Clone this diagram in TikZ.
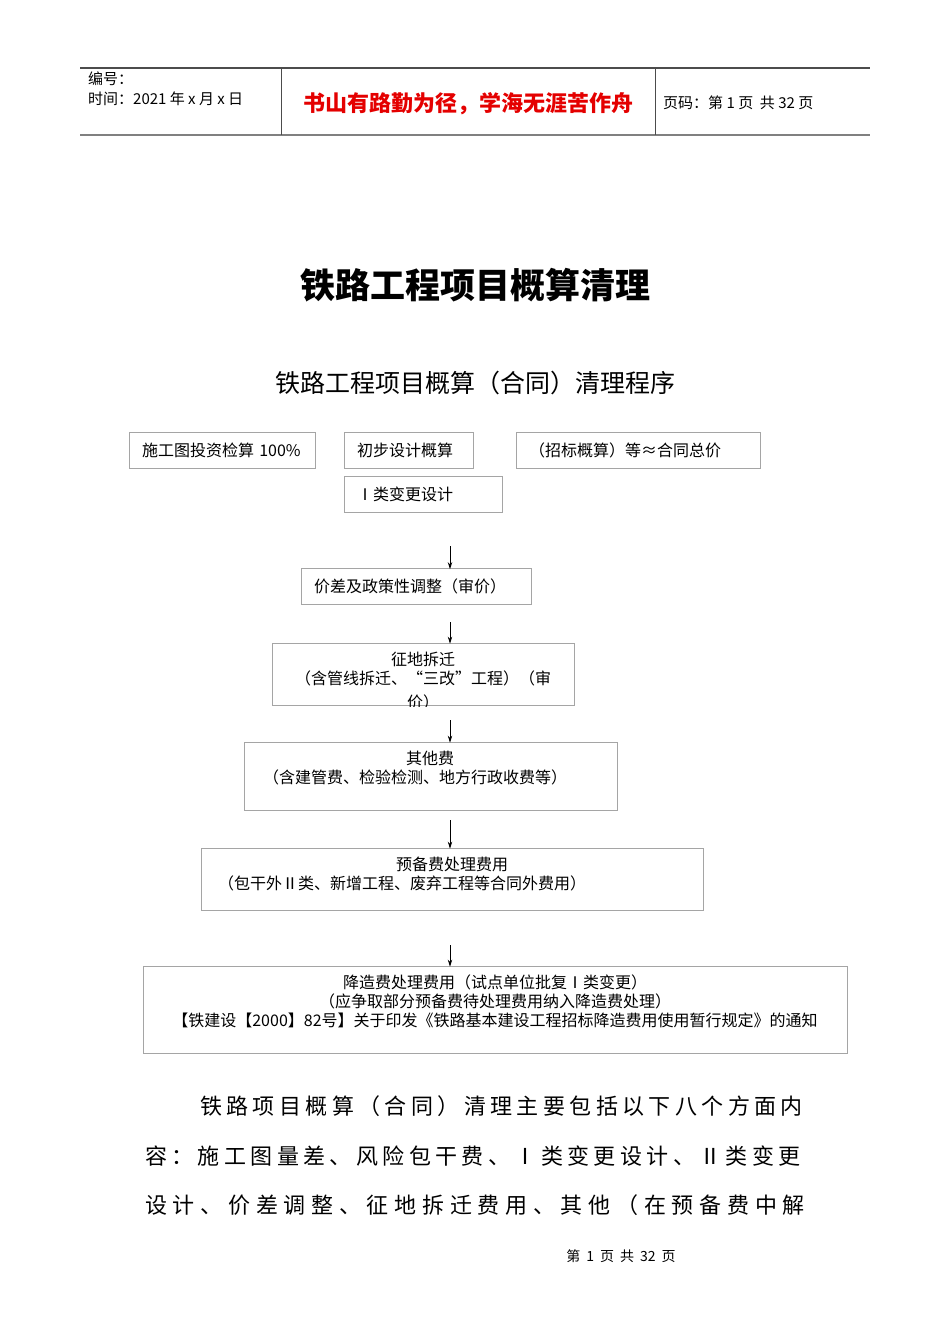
\documentclass[tikz,border=0pt]{standalone}
\usepackage{fontspec}
\setmainfont{Noto Sans CJK SC}
\newfontfamily\spaced[LetterSpace=20]{Noto Sans CJK SC}
\newfontfamily\wider[LetterSpace=26]{Noto Sans CJK SC}
\usetikzlibrary{arrows.meta}
\definecolor{boxgray}{RGB}{165,165,165}
\definecolor{headred}{RGB}{228,0,0}
\tikzset{
box/.style={draw=boxgray,line width=0.8pt,inner xsep=13pt,inner ysep=0pt,minimum height=36pt,align=left,font=\fontsize{16}{19}\selectfont},
bigbox/.style={draw=boxgray,line width=0.8pt,inner sep=0pt},
boxtext/.style={anchor=north,inner sep=0pt,align=center,font=\fontsize{16}{19}\selectfont},
arr/.style={-{Stealth[length=7pt,width=4.5pt]},line width=0.8pt},
head/.style={anchor=west,inner sep=0pt,font=\fontsize{15}{15}\selectfont},
para/.style={anchor=west,inner sep=0pt,font=\fontsize{22}{22}\spaced}
}
\begin{document}
\begin{tikzpicture}[x=1pt,y=-1pt]
\useasboundingbox(0,0)rectangle(950,1344);
% header table
\draw[line width=1.2pt,draw=gray!60!black](80,68)--(870,68);
\draw[line width=1.6pt,draw=gray](80,135)--(870,135);
\draw[line width=0.8pt,draw=gray!60!black](281,68)--(281,135)(655,68)--(655,135);
\node[head](hno)at(88,79){编号：};
\node[head](htime)at(88,99){时间：2021 年 x 月 x 日};
\node[inner sep=0pt,text=headred,font=\fontsize{22}{22}\bfseries](hmotto)at(468,104){书山有路勤为径，学海无涯苦作舟};
\node[head](hpage)at(663,103){页码：第 1 页\ \ 共 32 页};
% titles
\node[inner sep=0pt,font=\fontsize{35}{35}\bfseries](title)at(475,285){铁路工程项目概算清理};
\node[inner sep=0pt,font=\fontsize{25}{25}\selectfont](subtitle)at(475,383){铁路工程项目概算（合同）清理程序};
% top row
\node[box,text width=160pt](sgt)at(222,450){施工图投资检算 100\%};
\node[box,text width=103pt](cbsj)at(408.5,450){初步设计概算};
\node[box,text width=218pt](zbgs)at(638,450){（招标概算）等≈合同总价};
\node[box,text width=132pt](bgsj)at(423,494){Ⅰ类变更设计};
\node[box,text width=204pt](jctz)at(416,586.5){价差及政策性调整（审价）};
% big boxes
\node[bigbox,minimum width=302pt,minimum height=62pt](zdcq)at(423,674){};
\begin{scope}
\clip([shift={(1,-1)}]zdcq.north west)rectangle([shift={(-1,1)}]zdcq.south east);
\node[boxtext](zdcqt)at(423,652){征地拆迁\\（含管线拆迁、“三改”工程）（审\\[5pt]价）};
\end{scope}
\node[bigbox,minimum width=373pt,minimum height=68pt](qtf)at(430.5,776){};
\node[boxtext](qtft)at(430,751){其他费\\（含建管费、检验检测、地方行政收费等）\hspace*{30pt}};
\node[bigbox,minimum width=502pt,minimum height=62pt](ybf)at(452,879){};
\node[boxtext](ybft)at(452,857){预备费处理费用\\（包干外Ⅱ类、新增工程、废弃工程等合同外费用）\hspace*{100pt}};
\node[bigbox,minimum width=704pt,minimum height=87pt](jzf)at(495,1009.5){};
\node[boxtext](jzft)at(495,975){降造费处理费用（试点单位批复Ⅰ类变更）\\（应争取部分预备费待处理费用纳入降造费处理）\\【铁建设【2000】82号】关于印发《铁路基本建设工程招标降造费用使用暂行规定》的通知};
% arrows
\coordinate(a1)at(450,546);\coordinate(a2)at(450,622);\coordinate(a3)at(450,720);
\coordinate(a4)at(450,820);\coordinate(a5)at(450,945);
\draw[arr](a1)--([yshift=-1pt]a1|-jctz.north);
\draw[arr](a2)--([yshift=-1pt]a2|-zdcq.north);
\draw[arr](a3)--([yshift=-1pt]a3|-qtf.north);
\draw[arr](a4)--([yshift=-1pt]a4|-ybf.north);
\draw[arr](a5)--([yshift=-1pt]a5|-jzf.north);
% paragraph
\node[para](p1)at(200,1106){铁路项目概算（合同）清理主要包括以下八个方面内};
\node[para](p2)at(145,1156){容：施工图量差、风险包干费、Ⅰ类变更设计、Ⅱ类变更};
\node[para,font=\fontsize{22}{22}\wider](p3)at(145,1205){设计、价差调整、征地拆迁费用、其他（在预备费中解};
\node[inner sep=0pt,font=\fontsize{14}{14}\selectfont](foot)at(621,1256){第\hspace{6pt}1\hspace{6pt}页\hspace{6pt}共\hspace{6pt}32\hspace{6pt}页};
\end{tikzpicture}
\end{document}
